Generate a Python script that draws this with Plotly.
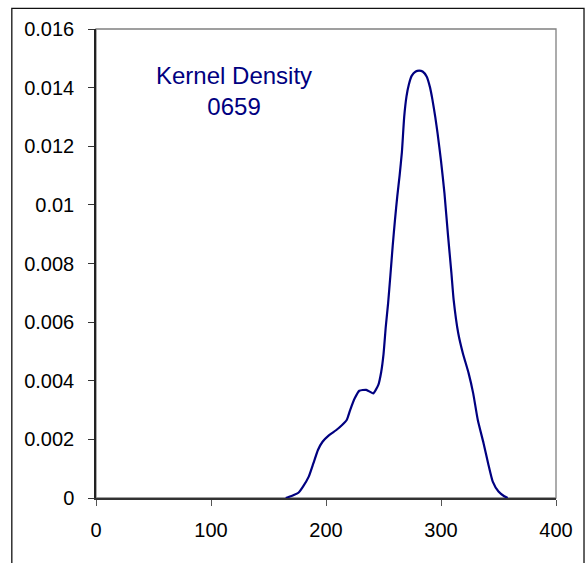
import plotly.graph_objects as go

# Kernel density estimate for sample 0659
grid_x = [165, 168, 172, 176, 180, 185, 189, 193, 197, 202, 209, 214, 218, 221,
          225, 229, 235, 241, 245.5, 248, 250, 252, 254, 256, 258, 260, 262, 264,
          266, 268, 270, 272, 274.5, 278, 281, 284, 287.5, 290.5, 292.5, 295, 297,
          300, 303, 306, 309, 311, 315, 319, 324, 328, 332, 337, 341, 345, 350,
          355, 358]
density = [0.0, 0.04, 0.10, 0.18, 0.39, 0.73, 1.18, 1.64, 1.92, 2.12, 2.32, 2.49,
           2.66, 3.00, 3.40, 3.66, 3.69, 3.57, 3.86, 4.30, 4.90, 5.85, 6.64, 7.60,
           8.60, 9.50, 10.30, 11.00, 11.80, 13.00, 13.70, 14.10, 14.40, 14.55,
           14.58, 14.55, 14.38, 14.00, 13.60, 13.00, 12.45, 11.50, 10.40, 9.00,
           7.70, 6.76, 5.62, 4.94, 4.26, 3.57, 2.66, 1.87, 1.18, 0.56, 0.22, 0.06,
           0.0]
density = [d / 1000 for d in density]

x_ticks = [0, 100, 200, 300, 400]
y_ticks = [0, 0.002, 0.004, 0.006, 0.008, 0.01, 0.012, 0.014, 0.016]
y_tick_text = ["0", "0.002", "0.004", "0.006", "0.008", "0.01", "0.012", "0.014", "0.016"]

title_lines = ["Kernel Density", "0659"]

navy = "#000080"
font_family = "Liberation Sans, Arial, sans-serif"

fig = go.Figure()
fig.add_trace(go.Scatter(
    x=grid_x, y=density, mode="lines",
    line=dict(color=navy, width=2.2, shape="spline", smoothing=0.5),
    hoverinfo="skip", showlegend=False,
))

fig.update_layout(
    width=587, height=563,
    margin=dict(l=96, r=31, t=29, b=65),
    paper_bgcolor="white", plot_bgcolor="white",
    font=dict(family=font_family, size=20, color="black"),
    xaxis=dict(
        range=[0, 400], tickvals=x_ticks, showgrid=False, zeroline=False,
        showline=True, linecolor="#333333", linewidth=1.5,
        ticks="outside", ticklen=6, tickwidth=1.2, tickcolor="#555555",
        ticklabelstandoff=7,
        tickfont=dict(family=font_family, size=20, color="black"),
    ),
    yaxis=dict(
        range=[0, 0.016], tickvals=y_ticks, ticktext=y_tick_text,
        showgrid=False, zeroline=False,
        showline=True, linecolor="#222222", linewidth=1.5,
        ticks="outside", ticklen=6, tickwidth=1.2, tickcolor="#333333",
        ticklabelstandoff=10,
        tickfont=dict(family=font_family, size=20, color="black"),
    ),
    shapes=[
        # plot-area frame (top and right edges show in grey)
        dict(type="rect", xref="paper", yref="paper", x0=0, x1=1, y0=0, y1=1,
             line=dict(color="#808080", width=1.3), layer="below"),
        # outer chart border
        dict(type="rect", xref="paper", yref="paper",
             x0=-0.183, x1=1.0609, y0=-0.16, y1=1.0441,
             line=dict(color="#111111", width=1.3)),
    ],
    annotations=[
        dict(text="<br>".join(title_lines), xref="paper", yref="paper",
             x=0.3, y=0.868, xanchor="center", yanchor="middle",
             showarrow=False, align="center",
             font=dict(family=font_family, size=24, color=navy)),
    ],
)

fig.write_html("out.html")
